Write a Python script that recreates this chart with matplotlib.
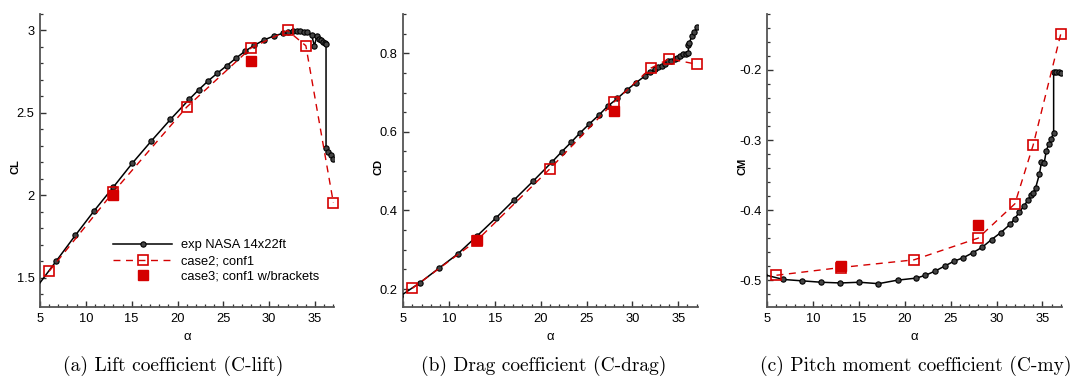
import matplotlib
matplotlib.use('Agg')
from matplotlib import pyplot as plt
from matplotlib.ticker import MultipleLocator, FuncFormatter

# experiment (NASA 14x22ft)
alpha_exp_cl = [4.6, 6.75, 8.85, 10.93, 13.0, 15.07, 17.15, 19.22, 21.29, 22.31, 23.36, 24.35, 25.36,
                26.38, 27.36, 28.38, 29.47, 30.53, 31.55, 32.1, 32.6, 33.0, 33.4, 33.75, 34.1, 34.64,
                34.93, 35.18, 35.4, 35.6, 35.85, 36.05, 36.2, 36.2, 36.45, 36.7, 37.0]
cl_exp = [1.44, 1.60, 1.757, 1.908, 2.05, 2.195, 2.33, 2.46, 2.583, 2.64, 2.695, 2.741, 2.786,
          2.832, 2.874, 2.91, 2.943, 2.967, 2.983, 2.99, 2.994, 2.996, 2.995, 2.993, 2.99, 2.97,
          2.905, 2.964, 2.948, 2.94, 2.932, 2.925, 2.915, 2.285, 2.265, 2.245, 2.222]

alpha_exp_cd = [4.6, 6.82, 8.89, 10.93, 13.0, 15.07, 17.1, 19.18, 21.25, 22.27, 23.29, 24.27, 25.29,
                26.35, 27.29, 28.35, 29.36, 30.38, 31.36, 31.9, 32.45, 32.8, 33.2, 33.5, 33.9, 34.2,
                34.6, 34.9, 35.2, 35.55, 35.8, 36.1, 36.1, 36.2, 36.5, 36.75, 37.0]
cd_exp = [0.181, 0.216, 0.253, 0.289, 0.334, 0.38, 0.427, 0.475, 0.524, 0.549, 0.573, 0.597, 0.62,
          0.643, 0.665, 0.685, 0.706, 0.725, 0.742, 0.752, 0.76, 0.764, 0.768, 0.772, 0.78, 0.781,
          0.785, 0.789, 0.793, 0.798, 0.799, 0.80, 0.821, 0.827, 0.844, 0.853, 0.866]

alpha_exp_cm = [4.6, 6.75, 8.82, 10.9, 12.97, 15.05, 17.12, 19.2, 21.27, 22.25, 23.31, 24.33, 25.35,
                26.37, 27.39, 28.44, 29.46, 30.48, 31.5, 32.0, 32.48, 32.99, 33.47, 33.72, 34.0, 34.27,
                34.67, 34.9, 35.2, 35.43, 35.7, 35.94, 36.23, 36.23, 36.5, 36.78, 37.05]
cm_exp = [-0.492, -0.499, -0.501, -0.503, -0.504, -0.503, -0.505, -0.500, -0.497, -0.493, -0.487,
          -0.480, -0.473, -0.468, -0.461, -0.453, -0.442, -0.432, -0.420, -0.412, -0.403, -0.394,
          -0.385, -0.379, -0.375, -0.368, -0.349, -0.332, -0.333, -0.315, -0.306, -0.299, -0.2895,
          -0.2033, -0.2024, -0.2024, -0.2048]

# case2; conf1
alpha_case2 = [6, 13, 21, 28, 32, 34, 37]
cl_case2 = [1.54, 2.02, 2.535, 2.893, 3.0, 2.907, 1.955]
cd_case2 = [0.202, 0.323, 0.506, 0.676, 0.762, 0.786, 0.772]
cm_case2 = [-0.493, -0.482, -0.471, -0.440, -0.391, -0.307, -0.149]

# case3; conf1 w/brackets
alpha_case3 = [13, 28]
cl_case3 = [2.0, 2.813]
cd_case3 = [0.325, 0.654]
cm_case3 = [-0.480, -0.421]

red = '#d40000'
plt.rcParams['font.family'] = ['Liberation Sans', 'DejaVu Sans']
plt.rcParams['axes.unicode_minus'] = False

fig = plt.figure(figsize=(10.78, 3.79), dpi=100)
bottom, height = 0.1887, 0.7745
lefts = [0.0371, 0.3741, 0.7118]
width = 0.273
caption_x = [173.5, 543.5, 916]  # pixel centres of the sub-captions

panels = [
    (alpha_exp_cl, cl_exp, cl_case2, cl_case3, 'CL', (1.32, 3.1), 0.5, 0.1, '(a) Lift coefficient (C-lift)'),
    (alpha_exp_cd, cd_exp, cd_case2, cd_case3, 'CD', (0.153, 0.9), 0.2, 0.05, '(b) Drag coefficient (C-drag)'),
    (alpha_exp_cm, cm_exp, cm_case2, cm_case3, 'CM', (-0.539, -0.12), 0.1, 0.02, '(c) Pitch moment coefficient (C-my)'),
]

fmt = FuncFormatter(lambda v, p: '%g' % round(v, 6))

for i, (ax_exp, y_exp, y2, y3, name, ylim, major, minor, caption) in enumerate(panels):
    ax = fig.add_axes([lefts[i], bottom, width, height])
    ax.plot(ax_exp, y_exp, '-o', color='black', lw=1.1, ms=3.8, mfc='#444444', mec='black', mew=0.8,
            label='exp NASA 14x22ft', zorder=3)
    ax.plot(alpha_case2, y2, '--s', color=red, lw=1.0, dashes=(5, 4), ms=7.5, mfc='none', mec=red,
            mew=1.2, label='case2; conf1', zorder=4, clip_on=False)
    ax.plot(alpha_case3, y3, 's', color=red, ms=7.5, mec=red, label='case3; conf1 w/brackets', zorder=5)
    ax.set_xlim(5, 37.1)
    ax.set_ylim(*ylim)
    ax.xaxis.set_major_locator(MultipleLocator(5))
    ax.xaxis.set_minor_locator(MultipleLocator(1))
    ax.yaxis.set_major_locator(MultipleLocator(major))
    ax.yaxis.set_minor_locator(MultipleLocator(minor))
    ax.yaxis.set_major_formatter(fmt)
    for s in ['top', 'right']:
        ax.spines[s].set_visible(False)
    for s in ['left', 'bottom']:
        ax.spines[s].set_color('#555555')
        ax.spines[s].set_linewidth(1.3)
    ax.tick_params(which='both', direction='in', colors='#333333', labelcolor='black', labelsize=9.3)
    ax.tick_params(which='major', length=4.5, width=1.0, pad=4)
    ax.tick_params(which='minor', length=2.3, width=0.9)
    ax.set_xlabel('α', fontsize=9.5, labelpad=4)
    ax.set_ylabel(name, fontsize=8, fontweight='bold')
    ax.yaxis.set_label_coords(-0.067, 0.48)
    fig.text(caption_x[i] / 1078, 1 - 366 / 379, caption, ha='center', va='center',
             fontsize=14, family='cmr10')
    if i == 0:
        ax.legend(loc='upper left', bbox_to_anchor=(0.248, 0.233), frameon=False, fontsize=9.3,
                  handlelength=4.6, handletextpad=0.7, labelspacing=0.3, borderpad=0, borderaxespad=0)

plt.savefig('out.png', dpi=100)
